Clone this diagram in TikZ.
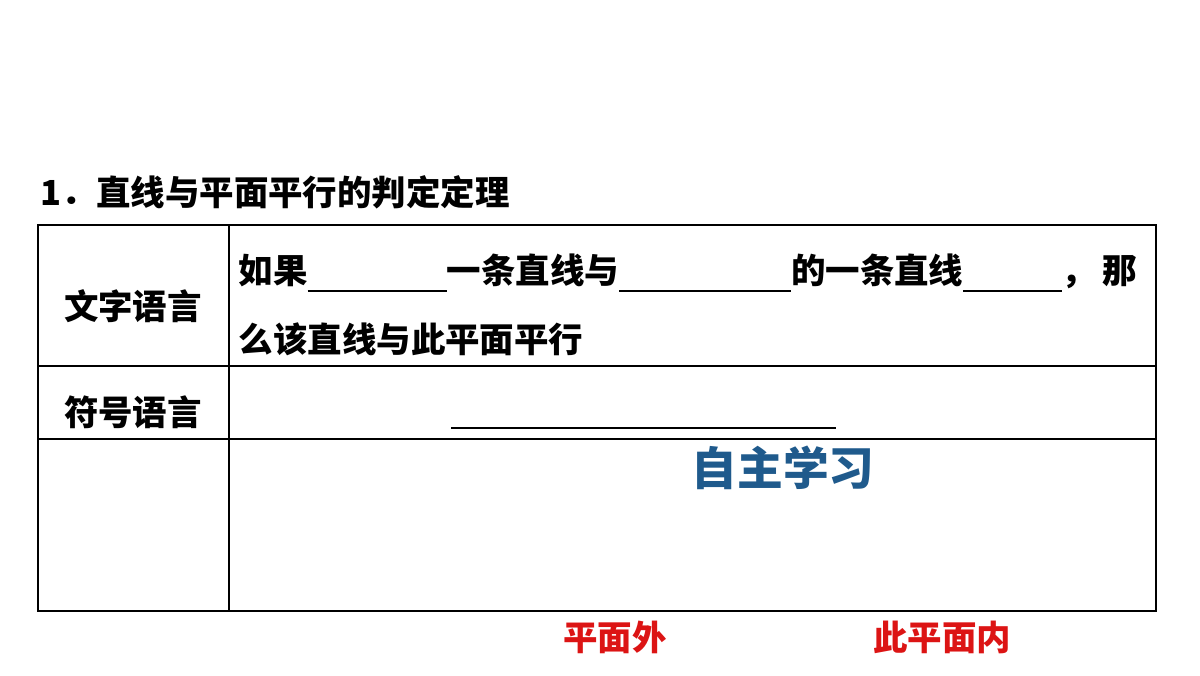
\documentclass[tikz,border=0pt]{standalone}
\usepackage{fontspec}
\newfontfamily\cjk{Noto Sans CJK SC}
\usetikzlibrary{positioning}
\definecolor{deepblue}{RGB}{31,90,140}
\definecolor{answerred}{RGB}{220,20,20}
\newcommand{\blank}[1]{\rule[-2.5pt]{#1}{0.6pt}}
\begin{document}
\begin{tikzpicture}[x=0.01cm,y=-0.01cm,
  txt/.style={font=\cjk\bfseries\fontsize{9.8pt}{12pt}\selectfont, inner sep=0pt},
  answer/.style={txt, text=answerred},
  grid/.style={draw, line width=0.6pt}]
    \useasboundingbox (0,0) rectangle (1200,675);
    % Title
    \node[txt, anchor=west] (title) at (40,192) {1．直线与平面平行的判定定理};
    % Table
    \draw[grid] (38,225) rectangle (1156,611);
    \draw[grid] (229,225) -- (229,611);
    \draw[grid] (38,366) -- (1156,366);
    \draw[grid] (38,439) -- (1156,439);
    % Left column
    \node[txt] (wordlabel) at (133,306) {文字语言};
    \node[txt] (symlabel) at (133,412) {符号语言};
    % Row texts
    \node[txt, anchor=west] (line1) at (238,273) {如果\blank{1.39cm}一条直线与\blank{1.72cm}的一条直线\blank{0.98cm}，\hspace{2pt}那};
    \node[txt, anchor=west] (line2) at (238,339) {么该直线与此平面平行};
    \coordinate (symstart) at (451,428);
    \coordinate (symend) at (836,428);
    \draw[line width=0.6pt] (symstart) -- (symend);
    % Stamp
    \node[txt, text=deepblue, font=\cjk\bfseries\fontsize{13pt}{16pt}\selectfont] (stamp) at (783,468) {自主学习};
    % Answers
    \node[answer] (ans1) at (615,637) {平面外};
    \node[answer] (ans2) at (942,637) {此平面内};
\end{tikzpicture}
\end{document}
